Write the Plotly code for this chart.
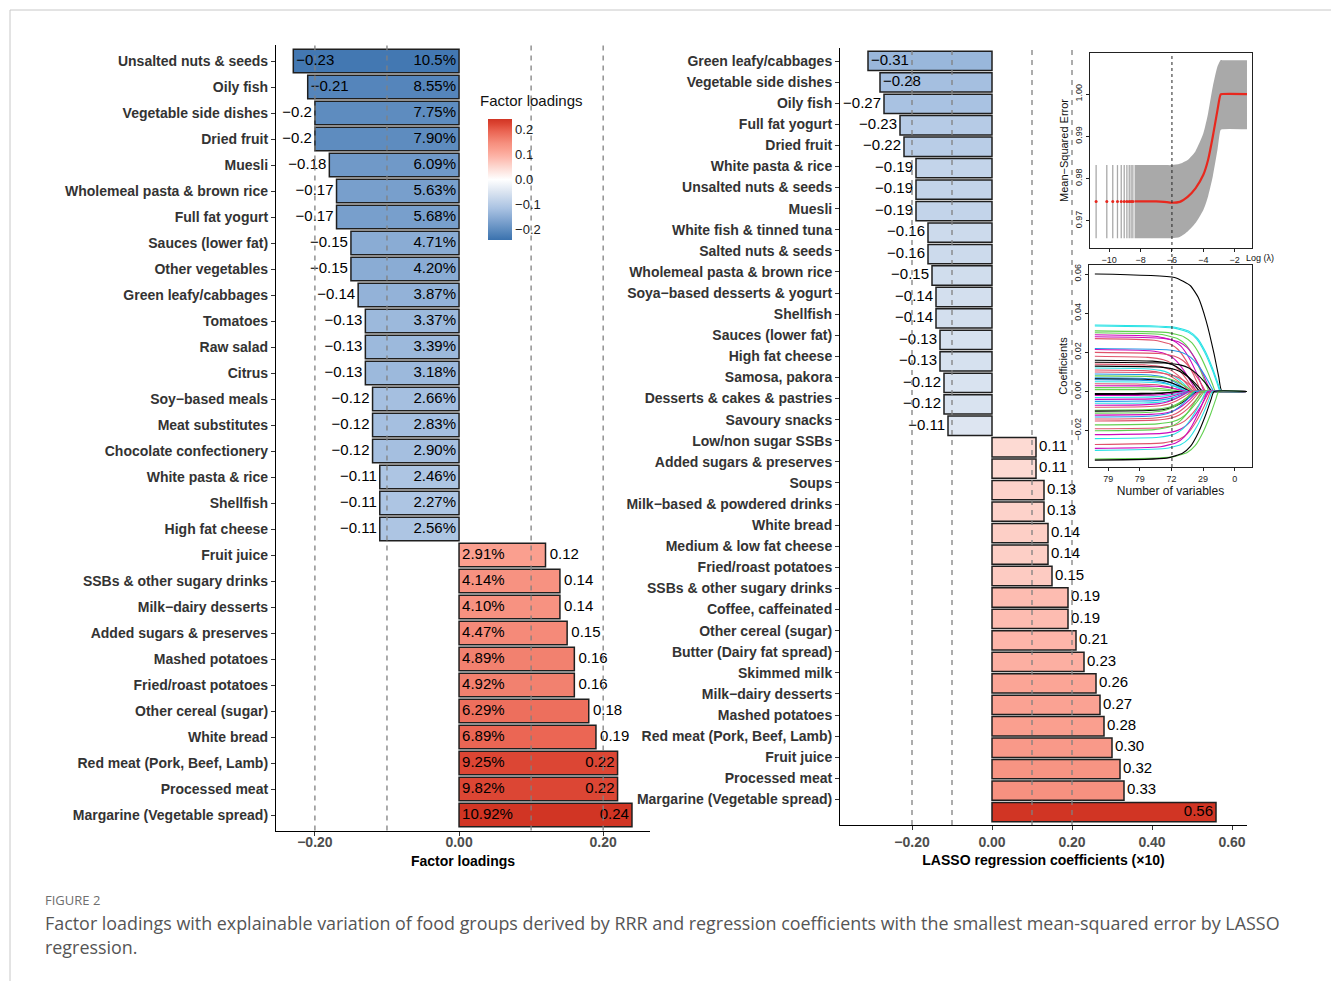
import plotly.graph_objects as go

W, H = 1331, 981


def fx(p):
    return p / W


def fy(p):
    return 1 - p / H


# ---------------- data: RRR factor loadings (left panel) ----------------
rrr_foods = [
    "Unsalted nuts & seeds", "Oily fish", "Vegetable side dishes", "Dried fruit", "Muesli",
    "Wholemeal pasta & brown rice", "Full fat yogurt", "Sauces (lower fat)", "Other vegetables",
    "Green leafy/cabbages", "Tomatoes", "Raw salad", "Citrus", "Soy\u2212based meals",
    "Meat substitutes", "Chocolate confectionery", "White pasta & rice", "Shellfish",
    "High fat cheese", "Fruit juice", "SSBs & other sugary drinks", "Milk\u2212dairy desserts",
    "Added sugars & preserves", "Mashed potatoes", "Fried/roast potatoes", "Other cereal (sugar)",
    "White bread", "Red meat (Pork, Beef, Lamb)", "Processed meat", "Margarine (Vegetable spread)",
]
rrr_loadings = [
    -0.23, -0.21, -0.20, -0.20, -0.18, -0.17, -0.17, -0.15, -0.15, -0.14,
    -0.13, -0.13, -0.13, -0.12, -0.12, -0.12, -0.11, -0.11, -0.11,
    0.12, 0.14, 0.14, 0.15, 0.16, 0.16, 0.18, 0.19, 0.22, 0.22, 0.24,
]
rrr_explained = [
    "10.5%", "8.55%", "7.75%", "7.90%", "6.09%", "5.63%", "5.68%", "4.71%", "4.20%", "3.87%",
    "3.37%", "3.39%", "3.18%", "2.66%", "2.83%", "2.90%", "2.46%", "2.27%", "2.56%",
    "2.91%", "4.14%", "4.10%", "4.47%", "4.89%", "4.92%", "6.29%", "6.89%", "9.25%", "9.82%", "10.92%",
]

# ---------------- data: LASSO coefficients (right panel) ----------------
lasso_foods = [
    "Green leafy/cabbages", "Vegetable side dishes", "Oily fish", "Full fat yogurt", "Dried fruit",
    "White pasta & rice", "Unsalted nuts & seeds", "Muesli", "White fish & tinned tuna",
    "Salted nuts & seeds", "Wholemeal pasta & brown rice", "Soya\u2212based desserts & yogurt",
    "Shellfish", "Sauces (lower fat)", "High fat cheese", "Samosa, pakora",
    "Desserts & cakes & pastries", "Savoury snacks", "Low/non sugar SSBs",
    "Added sugars & preserves", "Soups", "Milk\u2212based & powdered drinks", "White bread",
    "Medium & low fat cheese", "Fried/roast potatoes", "SSBs & other sugary drinks",
    "Coffee, caffeinated", "Other cereal (sugar)", "Butter (Dairy fat spread)", "Skimmed milk",
    "Milk\u2212dairy desserts", "Mashed potatoes", "Red meat (Pork, Beef, Lamb)", "Fruit juice",
    "Processed meat", "Margarine (Vegetable spread)",
]
lasso_coefs = [
    -0.31, -0.28, -0.27, -0.23, -0.22, -0.19, -0.19, -0.19, -0.16, -0.16, -0.15, -0.14,
    -0.14, -0.13, -0.13, -0.12, -0.12, -0.11,
    0.11, 0.11, 0.13, 0.13, 0.14, 0.14, 0.15, 0.19, 0.19, 0.21, 0.23, 0.26, 0.27, 0.28,
    0.30, 0.32, 0.33, 0.56,
]

# ---------------- data: cross-validation curve (inset 1) ----------------
cv_sparse_lambda = [-10.83, -10.15, -9.77, -9.47, -9.23, -9.04, -8.87, -8.72, -8.60, -8.49]
cv_sparse_mean = [0.9746] * 10
cv_sparse_upper = [0.9832] * 10
cv_sparse_lower = [0.9659] * 10

mse_lambda = [-8.38, -7.0, -6.5, -6.0, -5.5, -5.0, -4.5, -4.0, -3.7, -3.4, -3.1, -2.9, -2.8, -1.22]
mse_mean = [0.9746, 0.9746, 0.9745, 0.9743, 0.9745, 0.9757, 0.9777, 0.9809, 0.9844, 0.9899, 0.9962,
            0.9999, 1.0000, 1.0000]
mse_upper = [0.9832, 0.9832, 0.9832, 0.9832, 0.9835, 0.9844, 0.9865, 0.9907, 0.9954, 1.0017, 1.0065,
             1.0080, 1.0080, 1.0080]
mse_lower = [0.9659, 0.9659, 0.9659, 0.9659, 0.9662, 0.9675, 0.9695, 0.9726, 0.9758, 0.9805, 0.9868,
             0.9915, 0.9917, 0.9917]
mse_best_lambda = -6.0

# ---------------- data: coefficient paths (inset 2) ----------------
path_lambda_start = -10.85
path_lambda_end = -1.22
# shrinkage profile read from the paths: offset from the lambda where a path hits zero
profile_offset = [-8.0, -3.0, -2.0, -1.5, -1.0, -0.5, -0.2, 0.0]
profile_frac = [1.0, 0.97, 0.90, 0.80, 0.60, 0.32, 0.12, 0.0]

path_start = [
    0.060, 0.034, 0.0335, 0.031, 0.030, 0.029, 0.028, 0.027, 0.022, 0.0215, 0.020, 0.018,
    0.016, 0.015, 0.014, 0.013, 0.012, 0.011, 0.010, 0.009, 0.008, 0.007, 0.0065, 0.006,
    0.005, 0.004, 0.003, 0.002, 0.001, -0.001, -0.0015, -0.002, -0.003, -0.004, -0.005,
    -0.006, -0.007, -0.008, -0.0095, -0.010, -0.011, -0.012, -0.013, -0.014, -0.015,
    -0.017, -0.019, -0.020, -0.022, -0.024, -0.027, -0.029, -0.030, -0.0345, -0.035,
]
path_zero = [
    -2.8, -2.85, -2.9, -3.2, -3.6, -3.9, -3.5, -4.1, -3.3, -4.4, -3.8, -4.5,
    -4.2, -3.4, -4.6, -4.0, -4.7, -4.8, -4.3, -4.9, -4.6, -5.0, -4.8, -5.1,
    -4.9, -5.2, -5.0, -5.3, -5.4, -5.4, -5.6, -5.2, -5.1, -5.0, -4.9,
    -4.8, -4.9, -4.7, -4.5, -4.4, -4.6, -4.3, -4.5, -4.2, -4.0,
    -3.9, -3.7, -4.1, -3.6, -3.8, -3.5, -3.7, -3.4, -3.0, -3.3,
]
K, R, G, B, C, M = "#000000", "#DF536B", "#61D04F", "#2297E6", "#28E2E5", "#CD0BBC"
path_color = [
    K, C, C, G, G, M, M, R, B, M, R, R,
    K, K, R, K, C, R, R, B, G, B, K, B,
    C, R, M, G, G, K, K, M, C, M, B,
    C, M, R, G, K, G, M, B, R, R,
    G, R, G, M, C, R, M, C, G, K,
]

# ---------------- styling ----------------
FONT = "Liberation Sans"
COLORSCALE = [
    [0.0, "#3A72AE"], [0.175, "#85A8D2"], [0.26, "#A9C2E2"], [0.4, "#DCE5F1"],
    [0.5, "#FFFFFF"], [0.6, "#FDD9D2"], [0.6875, "#FDB5A9"], [0.75, "#FA9F8F"],
    [0.8, "#F68F7E"], [0.9, "#EA6452"], [0.96, "#DC4533"], [1.0, "#D13524"],
]
TS = "\u2009"   # thin space used as a small text gap
NS = "\u00a0"   # no-break space


def minus(s):
    return s.replace("-", "\u2212")


def pad(txt, position, gap):
    return (txt + gap) if "left" in position else (gap + txt)


fig = go.Figure()

# ---------- left panel ----------
n_l = len(rrr_foods)
ypos_l = [n_l - 1 - i for i in range(n_l)]
fig.add_trace(go.Bar(
    x=rrr_loadings, y=ypos_l, orientation="h", width=0.9,
    marker=dict(color=rrr_loadings, coloraxis="coloraxis", line=dict(color="#1f1f1f", width=1.5)),
    xaxis="x", yaxis="y", hoverinfo="skip", showlegend=False,
))
pos_l, txt_l = [], []
for v in rrr_loadings:
    inside = v <= -0.21 or v >= 0.22
    if v < 0:
        p = "middle right" if inside else "middle left"
        g = TS
    else:
        p = "middle left" if inside else "middle right"
        g = TS if inside else NS
    pos_l.append(p)
    txt_l.append(pad(minus(f"{v:g}"), p, g))
fig.add_trace(go.Scatter(
    x=rrr_loadings, y=ypos_l, mode="text", text=txt_l,
    textposition=pos_l, textfont=dict(family=FONT, size=15, color="black"),
    xaxis="x", yaxis="y", hoverinfo="skip", showlegend=False,
))
pos_p = ["middle left" if v < 0 else "middle right" for v in rrr_loadings]
fig.add_trace(go.Scatter(
    x=[0] * n_l, y=ypos_l, mode="text",
    text=[pad(t, p, TS) for t, p in zip(rrr_explained, pos_p)],
    textposition=pos_p,
    textfont=dict(family=FONT, size=15, color="black"),
    xaxis="x", yaxis="y", hoverinfo="skip", showlegend=False,
))

# ---------- right panel ----------
n_r = len(lasso_foods)
ypos_r = [n_r - 1 - i for i in range(n_r)]
fig.add_trace(go.Bar(
    x=lasso_coefs, y=ypos_r, orientation="h", width=0.9,
    marker=dict(color=lasso_coefs, coloraxis="coloraxis2", line=dict(color="#1f1f1f", width=1.5)),
    xaxis="x2", yaxis="y2", hoverinfo="skip", showlegend=False,
))
pos_r, txt_r = [], []
for v in lasso_coefs:
    if v < 0:
        p = "middle right" if v <= -0.28 else "middle left"
    else:
        p = "middle left" if v >= 0.5 else "middle right"
    pos_r.append(p)
    txt_r.append(pad(minus(f"{v:.2f}"), p, TS))
fig.add_trace(go.Scatter(
    x=lasso_coefs, y=ypos_r, mode="text", text=txt_r,
    textposition=pos_r, textfont=dict(family=FONT, size=15, color="black"),
    xaxis="x2", yaxis="y2", hoverinfo="skip", showlegend=False,
))
# invisible trace carrying the category label axis
fig.add_trace(go.Scatter(
    x=[0] * n_r, y=ypos_r, mode="markers", marker=dict(opacity=0),
    xaxis="x2", yaxis="y5", hoverinfo="skip", showlegend=False,
))

# ---------- inset 1: CV curve ----------
fig.add_trace(go.Scatter(
    x=mse_lambda, y=mse_lower, mode="lines", line=dict(width=0, shape="spline", smoothing=0.6),
    xaxis="x3", yaxis="y3", hoverinfo="skip", showlegend=False,
))
fig.add_trace(go.Scatter(
    x=mse_lambda, y=mse_upper, mode="lines", line=dict(width=0, shape="spline", smoothing=0.6),
    fill="tonexty", fillcolor="#A9A9A9",
    xaxis="x3", yaxis="y3", hoverinfo="skip", showlegend=False,
))
fig.add_trace(go.Scatter(
    x=cv_sparse_lambda, y=cv_sparse_mean, mode="markers",
    marker=dict(size=3, color="#E8281E"),
    error_y=dict(type="data", symmetric=False,
                 array=[u - m for u, m in zip(cv_sparse_upper, cv_sparse_mean)],
                 arrayminus=[m - l for m, l in zip(cv_sparse_mean, cv_sparse_lower)],
                 width=0, thickness=1.3, color="#A9A9A9"),
    xaxis="x3", yaxis="y3", hoverinfo="skip", showlegend=False,
))
fig.add_trace(go.Scatter(
    x=mse_lambda, y=mse_mean, mode="lines", line=dict(width=2.2, color="#E8281E", shape="spline", smoothing=0.6),
    xaxis="x3", yaxis="y3", hoverinfo="skip", showlegend=False,
))

# ---------- inset 2: coefficient paths ----------
for s, z, c in zip(path_start, path_zero, path_color):
    xs, ys = [path_lambda_start], [s]
    for o, f in zip(profile_offset, profile_frac):
        if z + o > path_lambda_start:
            xs.append(z + o)
            ys.append(s * f)
    xs.append(path_lambda_end)
    ys.append(0.0)
    fig.add_trace(go.Scatter(
        x=xs, y=ys, mode="lines", line=dict(width=1.1, color=c, shape="spline", smoothing=0.5),
        xaxis="x4", yaxis="y4", hoverinfo="skip", showlegend=False,
    ))

# ---------- shapes ----------
shapes = []
for xv in [-0.2, -0.1, 0.1, 0.2]:
    shapes.append(dict(type="line", xref="x", yref="y domain", x0=xv, x1=xv, y0=0, y1=1,
                       line=dict(color="#808080", width=1.3, dash="5px,5px"), layer="above"))
    shapes.append(dict(type="line", xref="x2", yref="y2 domain", x0=xv, x1=xv, y0=0, y1=1,
                       line=dict(color="#808080", width=1.3, dash="5px,5px"), layer="above"))
shapes.append(dict(type="line", xref="x3", yref="paper", x0=mse_best_lambda, x1=mse_best_lambda,
                   y0=fy(467), y1=fy(53), line=dict(color="#222", width=1, dash="dot"), layer="above"))
shapes.append(dict(type="line", xref="paper", yref="paper", x0=fx(10), x1=1, y0=fy(10), y1=fy(10),
                   line=dict(color="#c8c8c8", width=1)))
shapes.append(dict(type="line", xref="paper", yref="paper", x0=fx(10), x1=fx(10), y0=fy(10), y1=0,
                   line=dict(color="#c8c8c8", width=1)))

annotations = [
    dict(text="Factor loadings", xref="paper", yref="paper", x=fx(531), y=fy(100),
         xanchor="center", yanchor="middle", showarrow=False,
         font=dict(family=FONT, size=15, color="#111")),
    dict(text="Log (\u03bb)", xref="paper", yref="paper", x=fx(1244), y=fy(258),
         xanchor="left", yanchor="middle", showarrow=False,
         font=dict(family=FONT, size=9, color="#111")),
    dict(text="FIGURE 2", xref="paper", yref="paper", x=fx(43), y=fy(900),
         xanchor="left", yanchor="middle", showarrow=False,
         font=dict(family="Open Sans", size=13, color="#6e6e6e")),
    dict(text="Factor loadings with explainable variation of food groups derived by RRR and regression "
              "coefficients with the smallest mean-squared error by LASSO",
         xref="paper", yref="paper", x=fx(43), y=fy(923),
         xanchor="left", yanchor="middle", showarrow=False,
         font=dict(family="Open Sans", size=17.9, color="#555")),
    dict(text="regression.", xref="paper", yref="paper", x=fx(43), y=fy(947),
         xanchor="left", yanchor="middle", showarrow=False,
         font=dict(family="Open Sans", size=17.9, color="#555")),
]

cat_font = dict(family=FONT, size=14, color="#333333", weight="bold")
tick_font = dict(family=FONT, size=14, color="#4d4d4d", weight="bold")
title_font = dict(family=FONT, size=14, color="#000000", weight="bold")
inset_font = dict(family=FONT, size=9, color="#222")

fig.update_layout(
    width=W, height=H, autosize=False,
    margin=dict(l=0, r=0, t=0, b=0),
    paper_bgcolor="white", plot_bgcolor="white",
    showlegend=False,
    shapes=shapes, annotations=annotations,
    coloraxis=dict(
        colorscale=COLORSCALE, cmin=-0.24, cmax=0.24,
        colorbar=dict(
            x=fx(488), xanchor="left", y=fy(179.5), yanchor="middle",
            len=121, lenmode="pixels", thickness=24, thicknessmode="pixels",
            outlinewidth=0, ticks="", xpad=0, ypad=0,
            tickvals=[-0.2, -0.1, 0.0, 0.1, 0.2],
            ticktext=["\u22120.2", "\u22120.1", "0.0", "0.1", "0.2"],
            tickfont=dict(family=FONT, size=13, color="#1a1a1a"),
        ),
    ),
    coloraxis2=dict(colorscale=COLORSCALE, cmin=-0.56, cmax=0.56, showscale=False),
    xaxis=dict(
        domain=[fx(276), fx(650)], range=[-0.254, 0.265], anchor="y",
        tickvals=[-0.2, 0, 0.2], ticktext=["\u22120.20", "0.00", "0.20"],
        ticks="outside", ticklen=4, tickcolor="#333", tickwidth=1, ticklabelstandoff=-6,
        showline=True, linecolor="black", linewidth=1.2, zeroline=False, showgrid=False,
        tickfont=tick_font, title=dict(text="Factor loadings", font=title_font, standoff=7),
    ),
    yaxis=dict(
        domain=[fy(830.6), fy(45.4)], range=[-0.6, 29.6], anchor="x",
        tickvals=ypos_l, ticktext=rrr_foods,
        ticks="outside", ticklen=4, tickcolor="#333", tickwidth=1,
        showline=True, linecolor="black", linewidth=1.2, zeroline=False, showgrid=False,
        tickfont=cat_font,
    ),
    xaxis2=dict(
        domain=[fx(840), fx(1247)], range=[-0.38, 0.6375], anchor="y2",
        tickvals=[-0.2, 0, 0.2, 0.4, 0.6],
        ticktext=["\u22120.20", "0.00", "0.20", "0.40", "0.60"],
        ticks="outside", ticklen=4, tickcolor="#333", tickwidth=1,
        showline=True, linecolor="black", linewidth=1.2, zeroline=False, showgrid=False,
        tickfont=tick_font,
        title=dict(text="LASSO regression coefficients (\u00d710)", font=title_font, standoff=6),
    ),
    yaxis2=dict(
        domain=[fy(825), fy(48)], range=[-0.6, 35.6], anchor="x2",
        showticklabels=False, ticks="",
        showline=True, linecolor="black", linewidth=1.2, zeroline=False, showgrid=False,
    ),
    yaxis5=dict(
        overlaying="y2", anchor="x2", side="left", range=[-1.21, 35.616],
        tickvals=ypos_r, ticktext=lasso_foods,
        ticks="outside", ticklen=4, tickcolor="#333", tickwidth=1,
        showline=False, zeroline=False, showgrid=False, tickfont=cat_font,
    ),
    xaxis3=dict(
        domain=[fx(1090), fx(1252)], range=[-11.22, -0.9], anchor="y3",
        tickvals=[-10, -8, -6, -4, -2], ticktext=["\u221210", "\u22128", "\u22126", "\u22124", "\u22122"],
        ticks="outside", ticklen=3, tickcolor="#222", showline=True, mirror=True,
        linecolor="#222", linewidth=1, zeroline=False, showgrid=False, tickfont=inset_font,
    ),
    yaxis3=dict(
        domain=[fy(248), fy(53)], range=[0.9636, 1.0097], anchor="x3",
        tickvals=[0.97, 0.98, 0.99, 1.00], ticktext=["0.97", "0.98", "0.99", "1.00"], tickangle=-90,
        ticks="outside", ticklen=3, tickcolor="#222", showline=True, mirror=True,
        linecolor="#222", linewidth=1, zeroline=False, showgrid=False, tickfont=inset_font,
        title=dict(text="Mean\u2212Squared Error", font=dict(family=FONT, size=11, color="#111"), standoff=3),
    ),
    xaxis4=dict(
        domain=[fx(1089), fx(1252)], range=[-11.22, -0.9], anchor="y4",
        tickvals=[-10, -8, -6, -4, -2], ticktext=["79", "79", "72", "29", "0"],
        ticks="outside", ticklen=3, tickcolor="#222", showline=True, mirror=True,
        linecolor="#222", linewidth=1, zeroline=False, showgrid=False, tickfont=inset_font,
        title=dict(text="Number of variables", font=dict(family=FONT, size=12, color="#111"), standoff=3),
    ),
    yaxis4=dict(
        domain=[fy(467), fy(265)], range=[-0.0385, 0.0646], anchor="x4",
        tickvals=[-0.02, 0.0, 0.02, 0.04, 0.06],
        ticktext=["\u22120.02", "0.00", "0.02", "0.04", "0.06"], tickangle=-90,
        ticks="outside", ticklen=3, tickcolor="#222", showline=True, mirror=True,
        linecolor="#222", linewidth=1, zeroline=False, showgrid=False, tickfont=inset_font,
        title=dict(text="Coefficients", font=dict(family=FONT, size=11, color="#111"), standoff=3),
    ),
)

fig.write_html("out.html", config={"displayModeBar": False},
               post_script="document.body.style.margin='0px';")
